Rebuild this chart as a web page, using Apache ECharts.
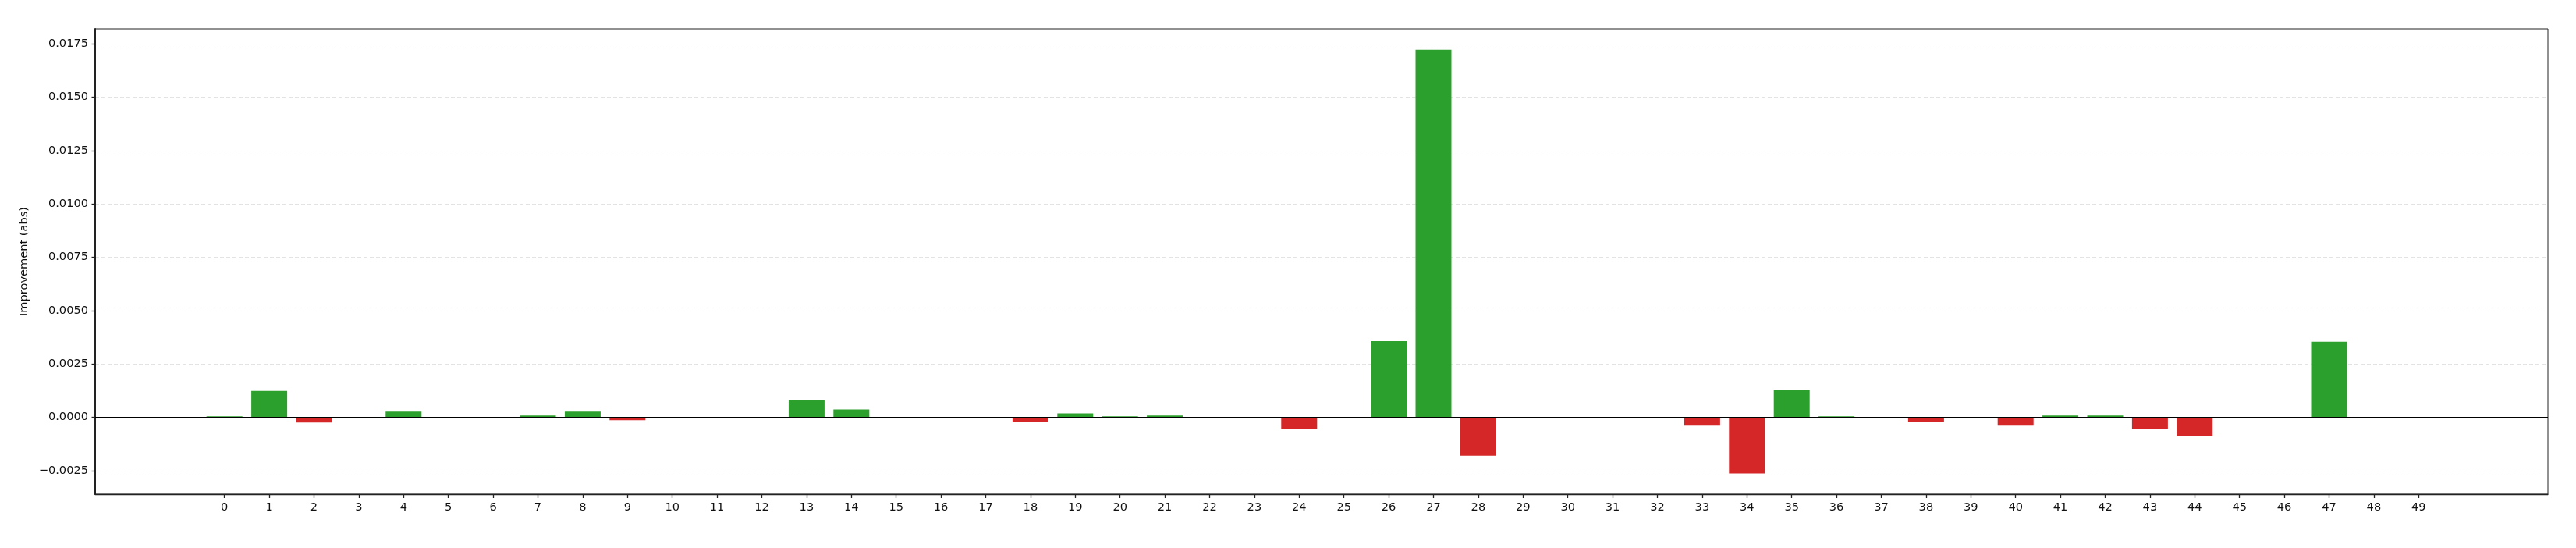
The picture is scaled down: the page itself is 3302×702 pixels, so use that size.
<!DOCTYPE html>
<html>
<head>
<meta charset="utf-8">
<script src="https://cdn.jsdelivr.net/npm/echarts@6/dist/echarts.min.js"></script>
<style>
  html, body { margin: 0; padding: 0; background: #fff; }
  #chart { width: 3302px; height: 702px; }
</style>
</head>
<body>
<div id="chart"></div>
<script>
// ---- data ----
const categories = [
  0, 1, 2, 3, 4, 5, 6, 7, 8, 9,
  10, 11, 12, 13, 14, 15, 16, 17, 18, 19,
  20, 21, 22, 23, 24, 25, 26, 27, 28, 29,
  30, 31, 32, 33, 34, 35, 36, 37, 38, 39,
  40, 41, 42, 43, 44, 45, 46, 47, 48, 49
];
const improvement = [
  0.00005, 0.00124, -0.00024, 0, 0.00027, 0, 0, 0.000085, 0.00027, -0.00013,
  0, 0, 0, 0.00081, 0.00037, 0, 0, 0, -0.00020, 0.00019,
  0.00005, 0.000085, 0, 0, -0.00056, 0, 0.00357, 0.01722, -0.00180, 0,
  0, 0, 0, -0.00039, -0.00263, 0.00128, 0.00005, 0, -0.00020, 0,
  -0.00039, 0.000085, 0.000085, -0.00056, -0.00089, 0, 0, 0.00354, 0, 0
];
const yTicks = [-0.0025, 0.0000, 0.0025, 0.0050, 0.0075, 0.0100, 0.0125, 0.0150, 0.0175];
const yLabel = 'Improvement (abs)';

// ---- chart ----
const FONT = 'DejaVu Sans';
const chart = echarts.init(document.getElementById('chart'), null, { renderer: 'canvas' });

const fmtY = v => {
  const s = Math.abs(v).toFixed(4);
  return (v < -1e-12 ? '\u2212' : '') + s;
};

const option = {
  animation: false,
  backgroundColor: '#ffffff',
  grid: {
    left: 122, right: 36, top: 37, bottom: 69,
    show: true, borderColor: '#222', borderWidth: 1, backgroundColor: 'transparent'
  },
  xAxis: {
    type: 'value',
    min: -2.887,
    max: 51.887,
    axisLine: { show: true, onZero: false, lineStyle: { color: '#222', width: 1.3 } },
    axisTick: { show: true, length: 5, lineStyle: { color: '#222', width: 1.3 }, customValues: categories },
    axisLabel: {
      show: true, customValues: categories, margin: 10,
      fontFamily: FONT, fontSize: 14.6, color: '#111',
      formatter: v => String(Math.round(v))
    },
    splitLine: { show: false }
  },
  yAxis: {
    type: 'value',
    min: -0.0036,
    max: 0.0182,
    name: yLabel,
    nameLocation: 'middle',
    nameGap: 82,
    nameTextStyle: { fontFamily: FONT, fontSize: 14.6, color: '#111' },
    axisLine: { show: true, onZero: false, lineStyle: { color: '#222', width: 2 } },
    axisTick: { show: true, length: 4.5, lineStyle: { color: '#222', width: 1.3 }, customValues: yTicks },
    axisLabel: {
      show: true, customValues: yTicks, margin: 9,
      fontFamily: FONT, fontSize: 14.6, color: '#111',
      formatter: fmtY
    },
    splitLine: { show: true, lineStyle: { color: '#e3e3e3', width: 1, type: [5, 3] } }
  },
  series: [{
    type: 'bar',
    data: categories.map((c, i) => [c, improvement[i]]),
    barWidth: 46,
    itemStyle: {
      color: p => (p.value[1] >= 0 ? '#2ca02c' : '#d62728')
    },
    markLine: {
      silent: true,
      symbol: 'none',
      label: { show: false },
      lineStyle: { color: '#000', width: 2, type: 'solid' },
      data: [{ yAxis: 0 }]
    }
  }]
};
chart.setOption(option);
</script>
</body>
</html>
